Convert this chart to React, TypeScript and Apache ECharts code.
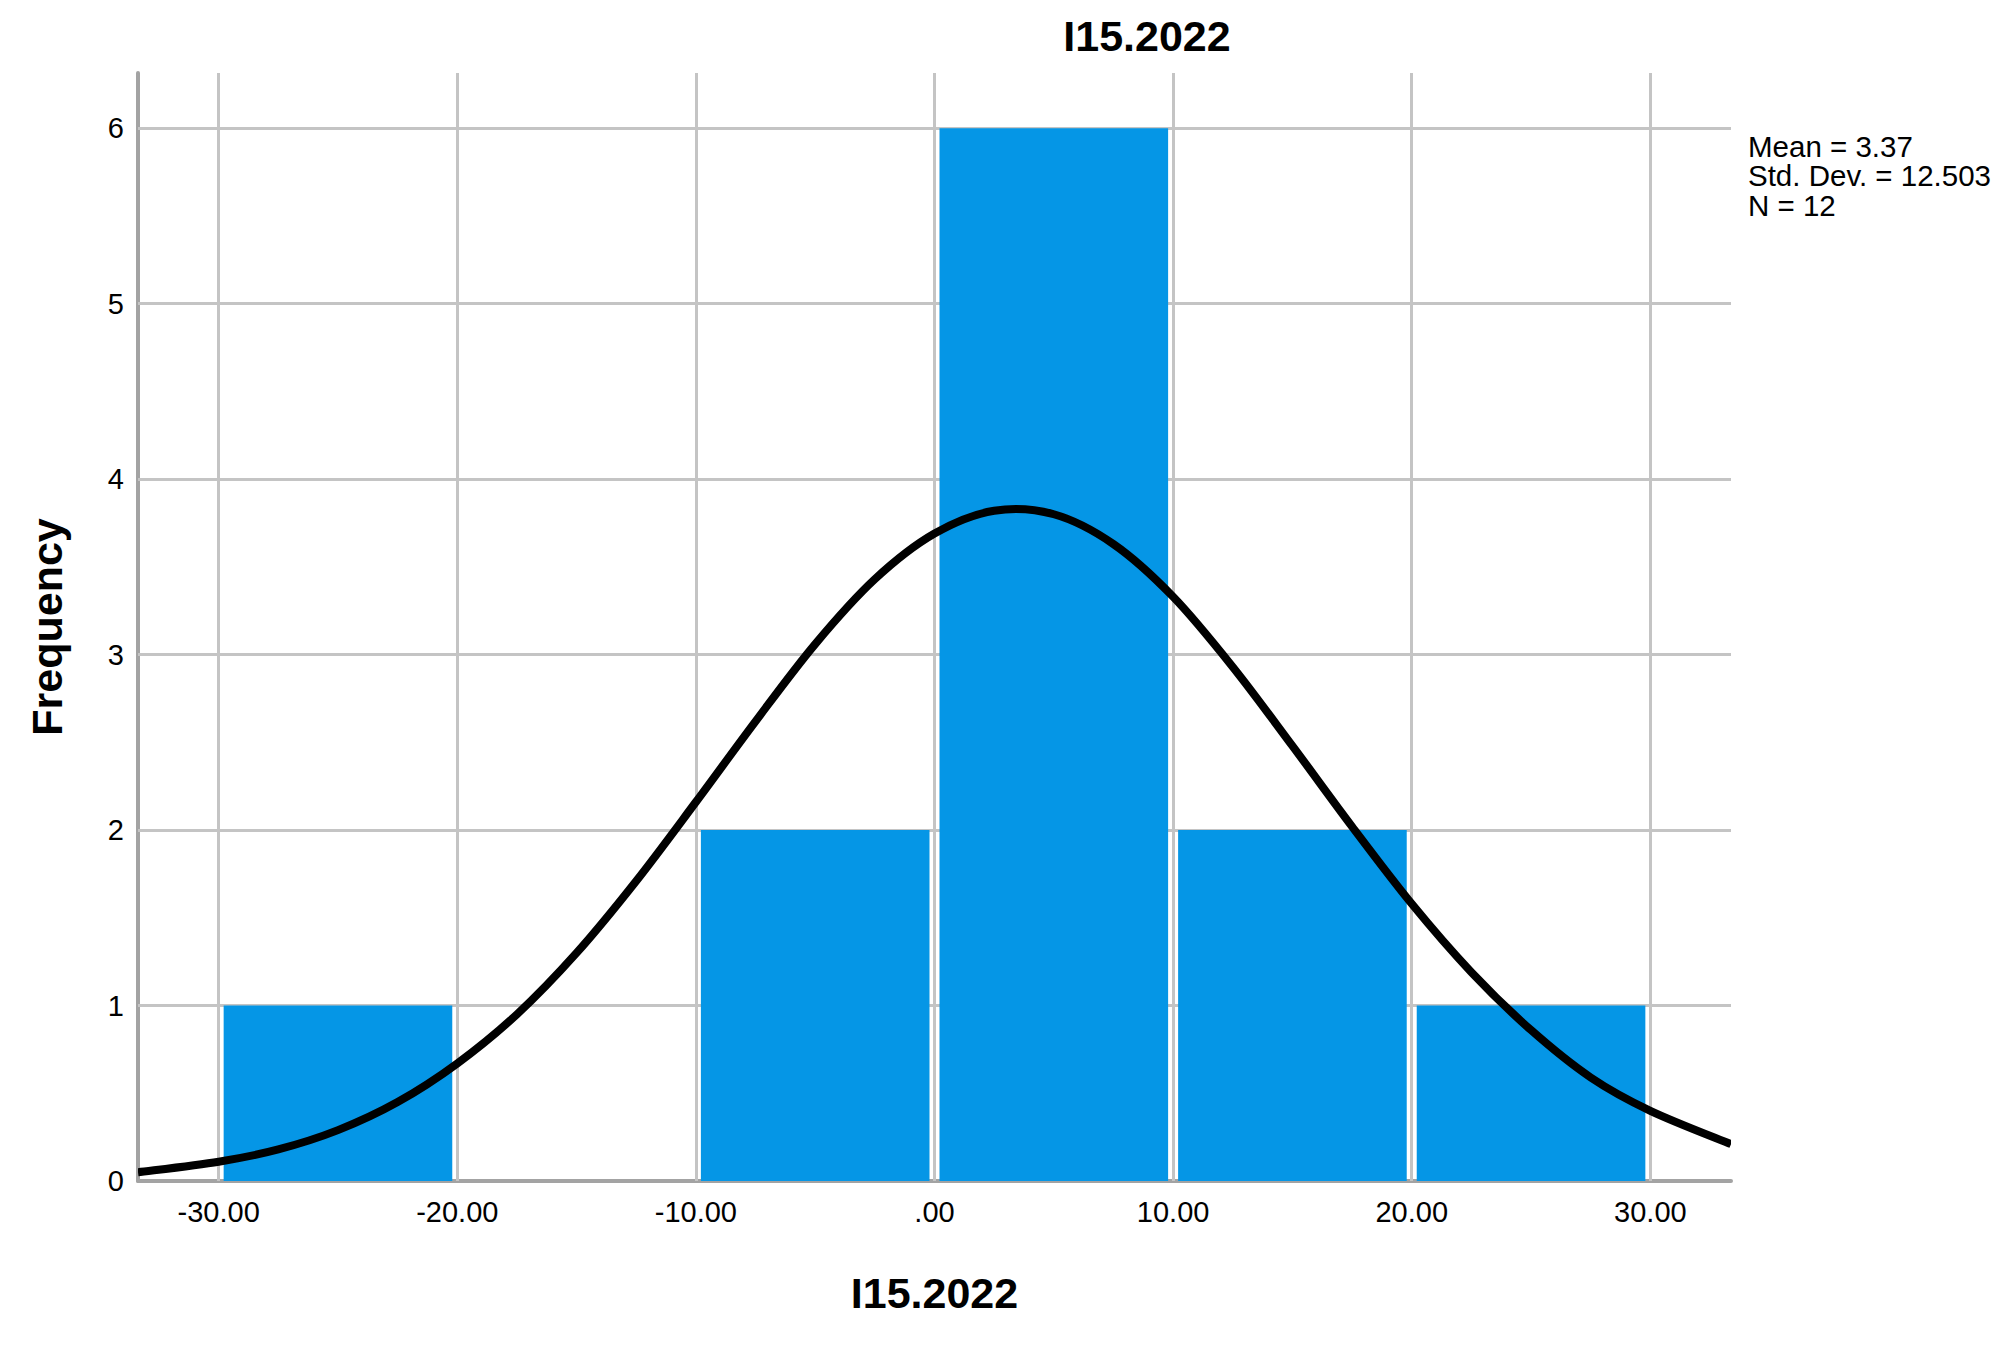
import React, { useEffect, useRef } from "react";
import * as echarts from "echarts";

// ---- data ----
const chartTitle = "I15.2022";
const xAxisTitle = "I15.2022";
const yAxisTitle = "Frequency";

const binStarts = [-30, -20, -10, 0, 10, 20];
const binEnds = [-20, -10, 0, 10, 20, 30];
const frequencies = [1, 0, 2, 6, 2, 1];

// normal curve as drawn in the picture
const curveX = [-33.38, -30, -27.5, -25, -22.5, -20, -17.5, -15, -12.5, -10, -7.5, -5, -2.5, 0, 2.5, 5, 7.5, 10, 12.5, 15, 17.5, 20, 22.5, 25, 27.5, 30, 33.38];
const curveY = [0.05, 0.11, 0.18, 0.29, 0.45, 0.67, 0.95, 1.3, 1.71, 2.16, 2.62, 3.06, 3.43, 3.69, 3.82, 3.8, 3.63, 3.33, 2.93, 2.48, 2.02, 1.58, 1.19, 0.86, 0.59, 0.4, 0.21];

const xTicks = [-30, -20, -10, 0, 10, 20, 30];
const xTickLabels = ["-30.00", "-20.00", "-10.00", ".00", "10.00", "20.00", "30.00"];
const yTicks = [0, 1, 2, 3, 4, 5, 6];

const statsLines = ["Mean = 3.37", "Std. Dev. = 12.503", "N = 12"];

const X_MIN = -33.38;
const X_MAX = 33.38;
const Y_MAX = 6.315;

const FONT = "'Liberation Sans', Arial, sans-serif";
const BAR_COLOR = "#0596e6";
const GRID_COLOR = "#c4c4c4";
const AXIS_COLOR = "#a3a3a3";

function splinePath(pts: number[][]): string {
  // Catmull-Rom spline through the points, as cubic Bezier segments
  if (pts.length < 2) return "";
  let d = `M${pts[0][0]},${pts[0][1]}`;
  for (let i = 0; i < pts.length - 1; i++) {
    const p0 = pts[i - 1] || pts[i];
    const p1 = pts[i];
    const p2 = pts[i + 1];
    const p3 = pts[i + 2] || pts[i + 1];
    const c1x = p1[0] + (p2[0] - p0[0]) / 6;
    const c1y = p1[1] + (p2[1] - p0[1]) / 6;
    const c2x = p2[0] - (p3[0] - p1[0]) / 6;
    const c2y = p2[1] - (p3[1] - p1[1]) / 6;
    d += ` C${c1x},${c1y} ${c2x},${c2y} ${p2[0]},${p2[1]}`;
  }
  return d;
}

export default function App() {
  const ref = useRef<HTMLDivElement>(null);

  useEffect(() => {
    if (!ref.current) return;
    const chart = echarts.init(ref.current, null, { renderer: "svg" });

    const barData = binStarts.map((s, i) => [s, binEnds[i], frequencies[i]]);
    const curveData = curveX.map((x, i) => [x, curveY[i]]);

    const option: any = {
      animation: false,
      backgroundColor: "#ffffff",
      textStyle: { fontFamily: FONT },
      grid: { left: 138, right: 280, top: 73, bottom: 164, containLabel: false },
      xAxis: {
        type: "value",
        min: X_MIN,
        max: X_MAX,
        name: xAxisTitle,
        nameLocation: "middle",
        nameGap: 112,
        nameTextStyle: {
          fontFamily: FONT,
          fontSize: 43,
          fontWeight: "bold",
          color: "#000",
          verticalAlign: "middle",
        },
        axisLine: { show: true, onZero: false, lineStyle: { color: AXIS_COLOR, width: 4 } },
        axisTick: { show: false },
        splitLine: { show: false },
        axisLabel: {
          customValues: xTicks,
          margin: 16,
          fontFamily: FONT,
          fontSize: 29,
          color: "#000",
          formatter: (v: number) => {
            const i = xTicks.indexOf(v);
            return i >= 0 ? xTickLabels[i] : "";
          },
        },
      },
      yAxis: {
        type: "value",
        min: 0,
        max: Y_MAX,
        name: yAxisTitle,
        nameLocation: "middle",
        nameGap: 91,
        nameRotate: 90,
        nameTextStyle: {
          fontFamily: FONT,
          fontSize: 43,
          fontWeight: "bold",
          color: "#000",
          verticalAlign: "middle",
        },
        axisLine: { show: true, onZero: false, lineStyle: { color: AXIS_COLOR, width: 4 } },
        axisTick: { show: false },
        splitLine: { show: false },
        axisLabel: {
          customValues: yTicks,
          margin: 14,
          fontFamily: FONT,
          fontSize: 29,
          color: "#000",
          verticalAlign: "middle",
          padding: [8, 0, 0, 0],
          formatter: (v: number) => (yTicks.indexOf(v) >= 0 ? String(v) : ""),
        },
      },
      series: [
        {
          type: "line",
          name: "grid",
          data: [],
          z: 1,
          silent: true,
          markLine: {
            silent: true,
            z: 1,
            symbol: ["none", "none"],
            label: { show: false },
            emphasis: { disabled: true },
            lineStyle: { color: GRID_COLOR, width: 3, type: "solid" },
            data: [
              ...xTicks.map((v) => ({ xAxis: v })),
              ...yTicks.filter((v) => v > 0).map((v) => ({ yAxis: v })),
            ],
          },
        },
        {
          type: "custom",
          name: "Frequency",
          z: 6,
          data: barData,
          encode: { x: [0, 1], y: 2 },
          renderItem: (params: any, api: any) => {
            const start = api.value(0);
            const end = api.value(1);
            const count = api.value(2);
            if (!count) return null;
            const p1 = api.coord([start, count]);
            const p2 = api.coord([end, 0]);
            return {
              type: "rect",
              shape: {
                x: p1[0] + 5,
                y: p1[1],
                width: p2[0] - p1[0] - 10,
                height: p2[1] - p1[1],
              },
              style: { fill: BAR_COLOR },
            };
          },
        },
        {
          type: "custom",
          name: "Normal",
          z: 8,
          silent: true,
          clip: true,
          data: curveData,
          encode: { x: 0, y: 1 },
          renderItem: (params: any, api: any) => {
            if (params.dataIndex !== 0) return null;
            const pts = curveData.map((p) => api.coord(p));
            return {
              type: "path",
              shape: { pathData: splinePath(pts) },
              style: {
                fill: "none",
                stroke: "#000000",
                lineWidth: 8,
                lineJoin: "round",
              },
            };
          },
        },
      ],
      graphic: [
        {
          type: "text",
          x: 1147,
          y: 36,
          style: {
            text: chartTitle,
            fontFamily: FONT,
            fontSize: 43,
            fontWeight: "bold",
            fill: "#000",
            align: "center",
            verticalAlign: "middle",
          },
        },
        ...statsLines.map((t, i) => ({
          type: "text",
          x: 1748,
          y: 146 + i * 29.5,
          style: {
            text: t,
            fontFamily: FONT,
            fontSize: 29.5,
            fill: "#000",
            align: "left",
            verticalAlign: "middle",
          },
        })),
      ],
    };

    chart.setOption(option);
    return () => chart.dispose();
  }, []);

  return (
    <div
      ref={ref}
      style={{ position: "absolute", left: 0, top: 0, width: 2011, height: 1345, background: "#fff" }}
    />
  );
}
